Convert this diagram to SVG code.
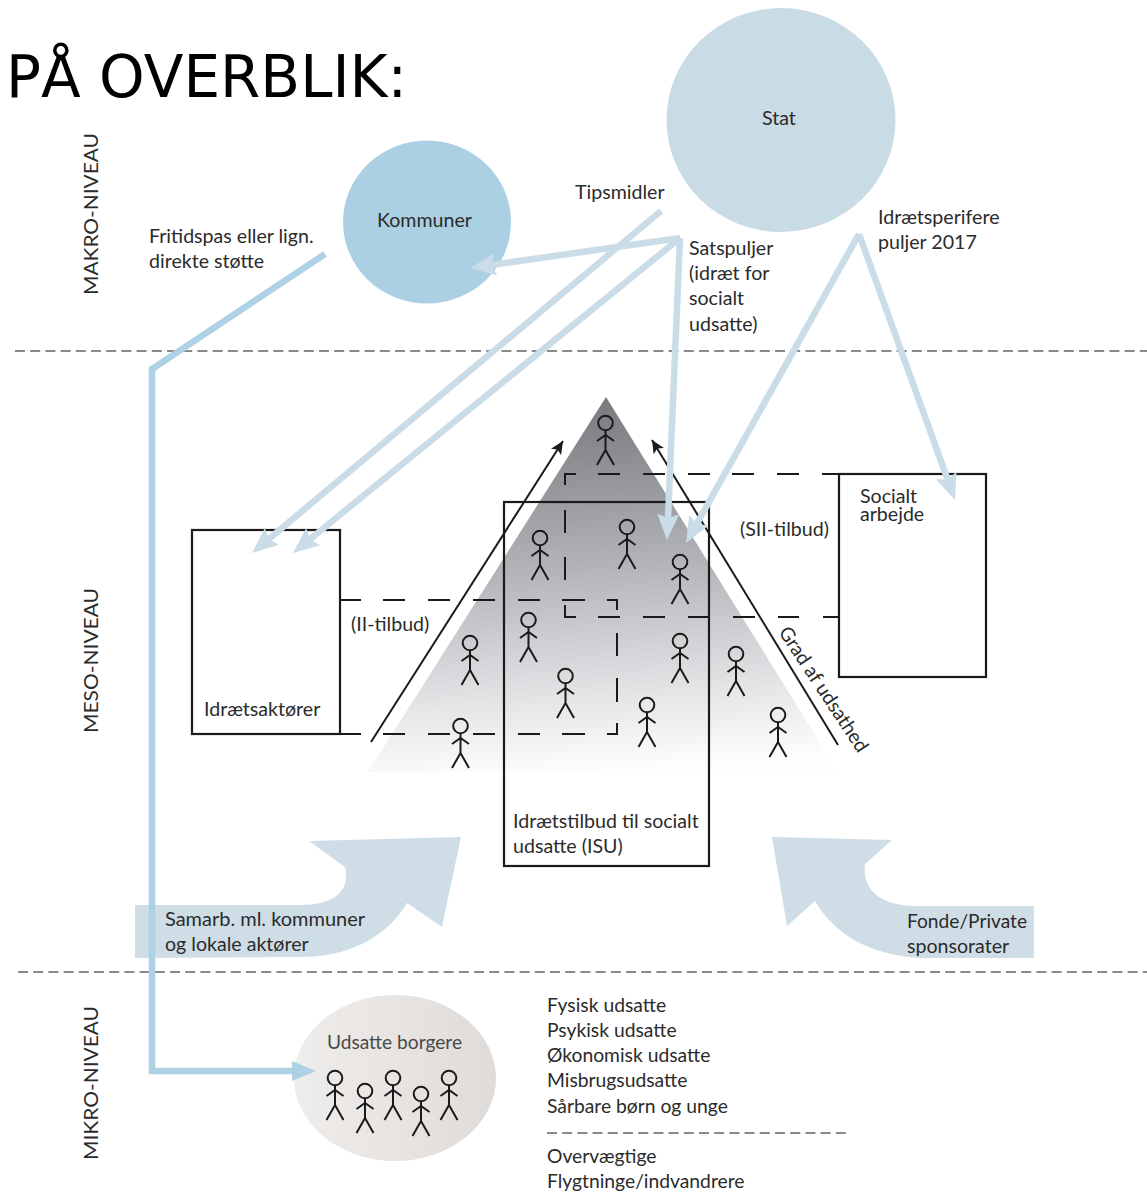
<svg xmlns="http://www.w3.org/2000/svg" width="1147" height="1192" viewBox="0 0 1147 1192">
<style>
text{font-family:"Lato","Open Sans",sans-serif;font-size:19.6px;fill:#2b2b2b}
.title{font-family:"DejaVu Sans",sans-serif;font-size:58px;fill:#000}
.lvl{font-size:19.5px}
.list{font-size:19.3px}
.fig{fill:none;stroke:#1a1a1a;stroke-width:2}
.box{fill:#fff;stroke:#1a1a1a;stroke-width:2.2}
.boxn{fill:none;stroke:#1a1a1a;stroke-width:2.2}
.dash{fill:none;stroke:#1a1a1a;stroke-width:2}
.sep{fill:none;stroke:#8a8a8a;stroke-width:2;stroke-dasharray:10 5.2}
.flow{fill:none;stroke:#c9dce7;stroke-width:6.500}
.flow2{fill:none;stroke:#aed2e5;stroke-width:6.500}
.big{fill:#cfdde7}
.thin{fill:none;stroke:#1a1a1a;stroke-width:2}
</style>
<defs>
<linearGradient id="pyr" x1="0.42" y1="0" x2="0.5" y2="1">
<stop offset="0" stop-color="#77787c"/><stop offset="0.45" stop-color="#b2b3b7"/><stop offset="0.8" stop-color="#e4e5e7"/><stop offset="1" stop-color="#fefefe"/>
</linearGradient>
<linearGradient id="gborger" x1="0" y1="0" x2="1" y2="0"><stop offset="0" stop-color="#efedeb"/><stop offset="1" stop-color="#dfdbd9"/></linearGradient>
<marker id="hl" markerUnits="userSpaceOnUse" markerWidth="32" markerHeight="26" refX="6" refY="11" orient="auto"><path d="M26,11 L0,0 L4,11 L0,22Z" fill="#c9dce7"/></marker>
<marker id="hd" markerUnits="userSpaceOnUse" markerWidth="30" markerHeight="24" refX="10" refY="10" orient="auto"><path d="M24,10 L0,0 L0,20Z" fill="#aed2e5"/></marker>
<marker id="hk" markerUnits="userSpaceOnUse" markerWidth="16" markerHeight="14" refX="13" refY="7" orient="auto"><path d="M13,7 L0,1 L3,7 L0,13Z" fill="#1a1a1a"/></marker>
<g id="person" class="fig"><circle cx="0" cy="0" r="7.3"/><path d="M0,7 V27 M-8.500,42 L0,27 L8.500,42 M-8.500,18 L0,12 L8.500,18"/></g>
</defs>
<rect width="1147" height="1192" fill="#fff"/>

<g id="backdrop">
<path class="big" d="M135,905 L300,905 C335,905 351,890 345,867 L309,841 L461,837 L442,927 L407,903 C385,940 345,957 300,957 L135,958Z"/>
<path class="big" d="M772,837 L892,840 L865,864 C862,890 880,905 915,906 L1034,906 L1034,958 L920,958 C870,955 835,935 815,901 L787,926Z"/>
<polygon points="606,397 838,772 368,772" fill="url(#pyr)"/>
<path class="sep" d="M15,351 H1147"/>
<path class="sep" d="M18,972 H1147"/>
<path class="sep" d="M547,1133 H850"/>
</g>

<text class="title" x="6" y="97">PÅ OVERBLIK:</text>
<g id="levels">
<text class="lvl" transform="translate(98,295) rotate(-90)" textLength="162" lengthAdjust="spacingAndGlyphs">MAKRO-NIVEAU</text>
<text class="lvl" transform="translate(98,733) rotate(-90)" textLength="145" lengthAdjust="spacingAndGlyphs">MESO-NIVEAU</text>
<text class="lvl" transform="translate(98,1160) rotate(-90)" textLength="154" lengthAdjust="spacingAndGlyphs">MIKRO-NIVEAU</text>
</g>

<g id="stat"><ellipse cx="781" cy="120" rx="114.500" ry="112" fill="#c9dbe5"/><text x="762" y="125">Stat</text></g>
<g id="kommuner"><ellipse cx="427" cy="222" rx="84" ry="81.500" fill="#acd0e3"/><text x="377" y="227">Kommuner</text></g>
<g id="idraetsaktoerer"><rect class="box" x="192" y="530" width="148" height="204"/><text x="204" y="716">Idrætsaktører</text></g>
<g id="socialt-arbejde"><rect class="box" x="839" y="474" width="147" height="203"/><text x="860" y="503">Socialt<tspan x="860" dy="18">arbejde</tspan></text></g>
<g id="isu"><rect class="boxn" x="504" y="502" width="205" height="364"/><text x="513" y="828">Idrætstilbud til socialt</text><text x="513" y="853">udsatte (ISU)</text></g>
<g id="dashed-offers">
<path class="dash" d="M340,600 H361 M383,600 H405 M428,600 H450 M473,600 H495 M518,600 H540 M562,600 H585 M607,600 H617 V610 M617,633 V656 M617,678 V702 M617,723 V734 H607 M585,734 H562 M540,734 H518 M495,734 H473 M450,734 H428 M405,734 H383 M361,734 H340"/>
<path class="dash" d="M839,474 H822 M799,474 H777 M754,474 H732 M710,474 H688 M665,474 H643 M620,474 H598 M576,474 H565 V485 M565,510 V533 M565,557 V580 M565,605 V617 H576 M598,617 H620 M643,617 H665 M688,617 H710 M733,617 H755 M778,617 H799 M823,617 H839"/>
<text x="351" y="631">(II-tilbud)</text>
<text x="740" y="536">(SII-tilbud)</text>
</g>
<g id="people">
<use href="#person" x="605.500" y="423"/>
<use href="#person" x="540" y="538"/>
<use href="#person" x="627" y="527"/>
<use href="#person" x="680" y="562"/>
<use href="#person" x="528.500" y="620"/>
<use href="#person" x="470" y="643"/>
<use href="#person" x="680" y="641"/>
<use href="#person" x="736" y="654"/>
<use href="#person" x="565.500" y="676"/>
<use href="#person" x="647" y="705"/>
<use href="#person" x="778" y="715"/>
<use href="#person" x="460.500" y="726"/>
</g>
<g id="udsatte-borgere">
<ellipse cx="395" cy="1078" rx="101" ry="83" fill="url(#gborger)"/>
<text x="327" y="1049" style="fill:#4a4a4a" textLength="135" lengthAdjust="spacingAndGlyphs">Udsatte borgere</text>
<use href="#person" x="335" y="1078"/>
<use href="#person" x="365" y="1091"/>
<use href="#person" x="393" y="1078"/>
<use href="#person" x="421" y="1094"/>
<use href="#person" x="449" y="1078"/>
</g>

<g id="connectors">
<path class="thin" d="M371,742 L563,441" marker-end="url(#hk)"/>
<path class="thin" d="M838,745 L652,440" marker-end="url(#hk)"/>
<path class="flow" d="M661,211 L267.300,540.200" marker-end="url(#hl)"/>
<path class="flow" d="M680,238 L308.500,540.400" marker-end="url(#hl)"/>
<path class="flow" d="M680,238 L489.800,265.200" marker-end="url(#hl)"/>
<path class="flow" d="M680,238 L667.900,520" marker-end="url(#hl)"/>
<path class="flow" d="M859,234 L695.800,525.500" marker-end="url(#hl)"/>
<path class="flow" d="M859,234 L948.200,481.200" marker-end="url(#hl)"/>
<path class="flow2" d="M325,254 L152,369 V1071 H302" marker-end="url(#hd)"/>
</g>

<g id="labels">
<text x="575" y="199">Tipsmidler</text>
<text x="149" y="243">Fritidspas eller lign.</text>
<text x="149" y="268">direkte støtte</text>
<text x="689" y="255">Satspuljer</text>
<text x="689" y="280">(idræt for</text>
<text x="689" y="305">socialt</text>
<text x="689" y="331">udsatte)</text>
<text x="878" y="224">Idrætsperifere</text>
<text x="878" y="249">puljer 2017</text>
<text transform="translate(778,632) rotate(56.6)" textLength="146" lengthAdjust="spacingAndGlyphs">Grad af udsathed</text>
<text x="165" y="926" textLength="200" lengthAdjust="spacingAndGlyphs">Samarb. ml. kommuner</text>
<text x="165" y="951">og lokale aktører</text>
<text x="907" y="928" textLength="120" lengthAdjust="spacingAndGlyphs">Fonde/Private</text>
<text x="907" y="953">sponsorater</text>
<text class="list" x="547" y="1012">Fysisk udsatte</text>
<text class="list" x="547" y="1037">Psykisk udsatte</text>
<text class="list" x="547" y="1062">Økonomisk udsatte</text>
<text class="list" x="547" y="1087">Misbrugsudsatte</text>
<text class="list" x="547" y="1113">Sårbare børn og unge</text>
<text class="list" x="547" y="1163">Overvægtige</text>
<text class="list" x="547" y="1188">Flygtninge/indvandrere</text>
</g>
</svg>
